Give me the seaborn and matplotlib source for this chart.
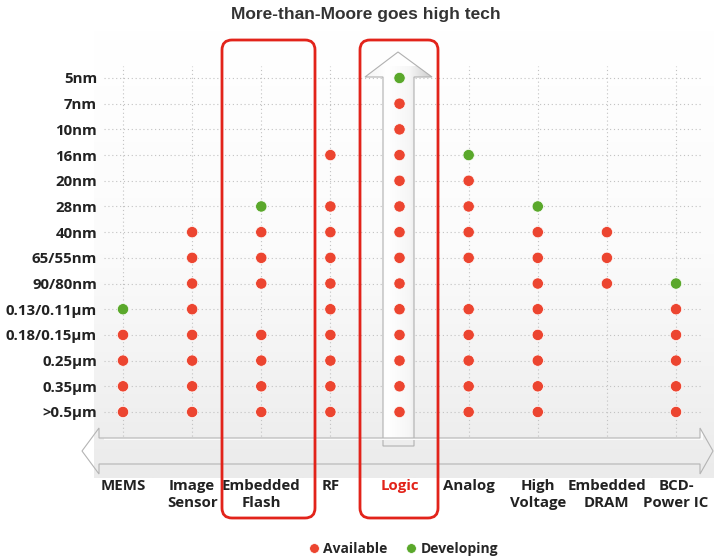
import numpy as np
import pandas as pd
import matplotlib
matplotlib.use("Agg")
import matplotlib.pyplot as plt
import seaborn as sns
from matplotlib.patches import Polygon, FancyBboxPatch
from matplotlib.lines import Line2D
from matplotlib.colors import LinearSegmentedColormap

# ---------------- data ----------------
title = "More-than-Moore goes high tech"
nodes = ["5nm", "7nm", "10nm", "16nm", "20nm", "28nm", "40nm", "65/55nm",
         "90/80nm", "0.13/0.11μm", "0.18/0.15μm", "0.25μm", "0.35μm", ">0.5μm"]
categories = ["MEMS", "Image\nSensor", "Embedded\nFlash", "RF", "Logic",
              "Analog", "High\nVoltage", "Embedded\nDRAM", "BCD-\nPower IC"]
# one char per node (top to bottom): A = available, D = developing, . = none
status = [
    ".........DAAAA",   # MEMS
    "......AAAAAAAA",   # Image Sensor
    ".....DAAA.AAAA",   # Embedded Flash
    "...A.AAAAAAAAA",   # RF
    "DAAAAAAAAAAAAA",   # Logic
    "...DAAAA.AAAAA",   # Analog
    ".....DAAAAAAAA",   # High Voltage
    "......AAA.....",   # Embedded DRAM
    "........DAAAAA",   # BCD-Power IC
]
status_names = {"A": "Available", "D": "Developing"}
legend_order = ["Available", "Developing"]

# ---------------- style ----------------
sns.set_theme(style="white")
plt.rcParams["font.family"] = ["Open Sans", "DejaVu Sans"]

colors = {"Available": "#ec4530", "Developing": "#5aa82b"}
box_red = "#e2231a"

rows = []
for ci, (cat, s) in enumerate(zip(categories, status)):
    for ni, ch in enumerate(s):
        if ch != ".":
            rows.append({"x": ci, "y": ni, "status": status_names[ch]})
df = pd.DataFrame(rows)

W, H = 714, 560
fig = plt.figure(figsize=(W / 100, H / 100), dpi=100)

# background overlay in pixel coordinates
bg = fig.add_axes([0, 0, 1, 1], zorder=0)
bg_cmap = LinearSegmentedColormap.from_list("bgc", ["#ffffff", "#fbfbfb", "#ebebeb"])
bg_grad = np.linspace(0, 1, 256).reshape(-1, 1)
bg.imshow(bg_grad, extent=(94, 714, 478, 30), cmap=bg_cmap, aspect="auto", zorder=0)
bg.set_xlim(0, W)
bg.set_ylim(H, 0)
bg.axis("off")

# main axes
ax = fig.add_axes([104 / W, 1 - 440 / H, (703 - 104) / W, (440 - 66) / H], zorder=1)
ax.patch.set_alpha(0)

# vertical Logic arrow
v_pts = [(398, 52), (432, 77), (414, 77), (414, 446), (383, 446), (383, 77), (365, 77)]
v_clip = Polygon(v_pts, closed=True, fc="none", ec="none", transform=bg.transData, clip_on=False)
ax.add_patch(v_clip)
v_cmap = LinearSegmentedColormap.from_list("vc", ["#f4f4f4", "#ffffff", "#f6f6f6", "#cdcdcd"])
v_grad = np.linspace(0, 1, 256).reshape(1, -1)
im_v = ax.imshow(v_grad, extent=(365, 432, 446, 52), cmap=v_cmap, aspect="auto",
                 transform=bg.transData, zorder=1.2)
im_v.set_clip_path(v_clip)
ax.add_patch(Polygon(v_pts, closed=True, fc="none", ec="#b0b0b0", lw=0.8,
                     transform=bg.transData, clip_on=False, zorder=1.3))

# horizontal double arrow
h_pts = [(82, 451), (99, 428), (99, 438), (700, 438), (700, 428), (713, 451),
         (700, 474), (700, 464), (99, 464), (99, 474)]
h_clip = Polygon(h_pts, closed=True, fc="none", ec="none", transform=bg.transData, clip_on=False)
ax.add_patch(h_clip)
h_cmap = LinearSegmentedColormap.from_list("hc", ["#ffffff", "#fafafa", "#ececec", "#c9c9c9"])
h_grad = np.linspace(0, 1, 256).reshape(-1, 1)
im_h = ax.imshow(h_grad, extent=(82, 713, 474, 428), cmap=h_cmap, aspect="auto",
                 transform=bg.transData, zorder=1.4)
im_h.set_clip_path(h_clip)
ax.add_patch(Polygon(h_pts, closed=True, fc="none", ec="#b4b4b4", lw=0.8,
                     transform=bg.transData, clip_on=False, zorder=1.5))

# dots
sns.scatterplot(data=df, x="x", y="y", hue="status", palette=colors,
                hue_order=legend_order, s=66, edgecolor="#ffffff", linewidth=0.5,
                legend=False, ax=ax, zorder=5)

# axes formatting
ax.set_xticks(range(len(categories)))
ax.set_xticklabels(categories, fontsize=10.8, fontweight="bold", color="#222222", linespacing=1.32)
ax.set_yticks(range(len(nodes)))
ax.set_yticklabels(nodes, fontsize=10.8, fontweight="bold", color="#222222")
ax.tick_params(axis="x", length=0, pad=28)
ax.tick_params(axis="y", length=0, pad=5)
for lbl in ax.get_xticklabels():
    if lbl.get_text() == "Logic":
        lbl.set_color(box_red)
ax.set_xlim(-0.275, 8.39)
ax.set_ylim(14.09, -0.467)
ax.grid(True, ls=(0, (1, 2.5)), color="#c2c2c2", lw=0.8)
ax.set_axisbelow(True)
for sp in ax.spines.values():
    sp.set_visible(False)
ax.set_xlabel("")
ax.set_ylabel("")

# highlight boxes
for (x0, w) in [(222, 93), (360, 78)]:
    ax.add_patch(FancyBboxPatch((x0, 40), w, 478, boxstyle="round,pad=0,rounding_size=10",
                                fill=False, ec=box_red, lw=2.0, transform=bg.transData,
                                clip_on=False, zorder=10))

# title
fig.text(366 / W, 1 - 15 / H, title, ha="center", va="center", fontsize=12.5,
         fontweight="bold", color="#333333", family=["Liberation Sans", "DejaVu Sans"])

# legend
handles = [Line2D([], [], marker="o", ls="", color=colors[k], markersize=7,
                  markeredgecolor="white", markeredgewidth=0.5) for k in legend_order]
fig.legend(handles, legend_order, loc="center", bbox_to_anchor=(402 / W, 1 - 549 / H),
           ncol=2, frameon=False, prop={"weight": "bold", "size": 10},
           handletextpad=0.1, columnspacing=1.1, handlelength=1.2)

fig.savefig("out.png", dpi=100)
